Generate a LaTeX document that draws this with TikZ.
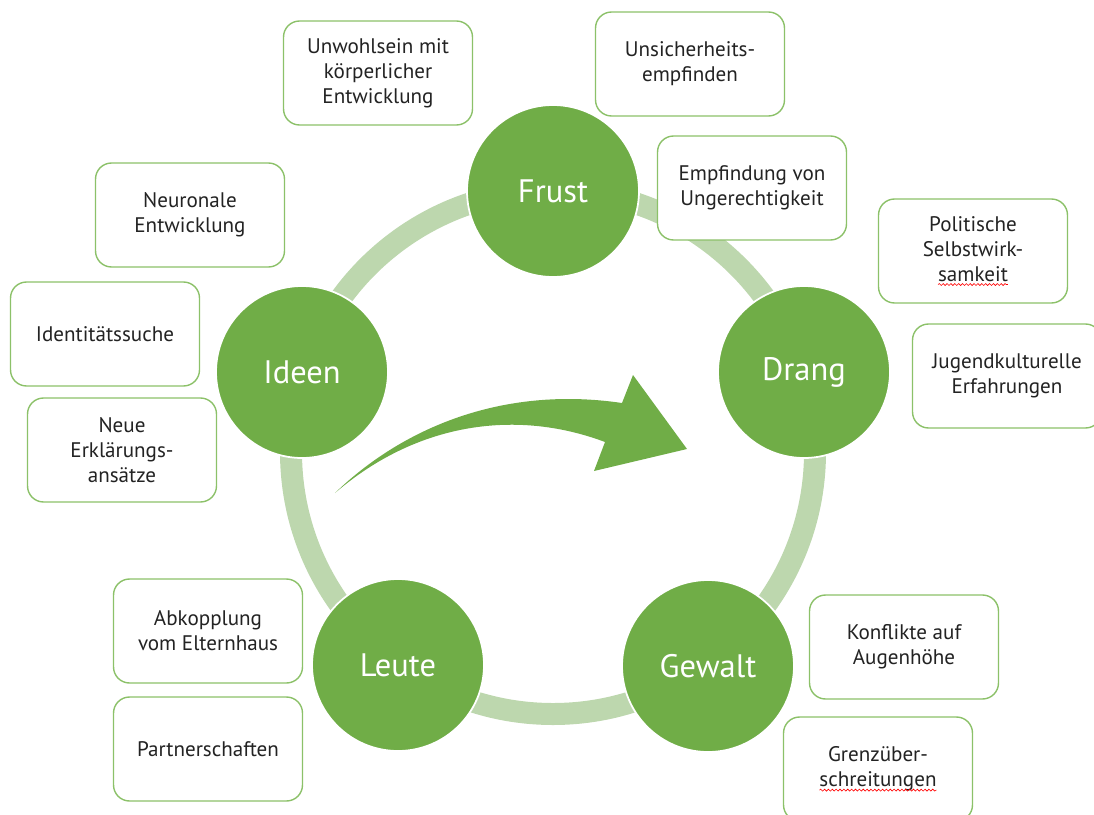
\documentclass[tikz,border=0pt]{standalone}
\usepackage{fontspec}
\setmainfont{PT Sans}
\usetikzlibrary{decorations.pathmorphing}

\definecolor{circgreen}{RGB}{112,173,71}
\definecolor{ringgreen}{RGB}{189,215,174}
\definecolor{boxgreen}{RGB}{140,193,105}
\definecolor{txtgray}{RGB}{35,35,35}

% red wavy underline of the spell checker
\newcommand{\spellerr}[1]{\tikz[baseline=(w.base),every node/.style={}]{%
  \node[inner sep=0pt, outer sep=0pt, draw=none, fill=none, minimum width=0pt,
    minimum height=0pt, sharp corners] (w) {#1};
  \draw[red, line width=0.35pt, sharp corners, decorate,
    decoration={snake, amplitude=0.55pt, segment length=2.2pt}]
    ([yshift=-2pt]w.base west) -- ([yshift=-2pt]w.base east);}}

\begin{document}
\begin{tikzpicture}[x=0.02cm,y=-0.02cm]

      \useasboundingbox (0,0) rectangle (1094,814);

      \draw[ringgreen, line width=0.44cm] (553,452) circle[radius=262];

      \begin{scope}[every node/.style={circle, fill=circgreen, draw=white, line width=1pt,
          minimum size=3.44cm, inner sep=0pt, text=white, font=\fontsize{18.5}{22}\selectfont}]
        \node (1) at (553,191) {Frust};
        \node (2) at (804,372) {Drang};
        \node (3) at (708,666) {Gewalt};
        \node (4) at (398,665) {Leute};
        \node (5) at (302,372) {Ideen};
      \end{scope}

      \begin{scope}[every node/.style={rectangle, rounded corners=0.32cm, draw=boxgreen,
          line width=0.8pt, fill=white, minimum width=3.78cm, minimum height=2.08cm,
          align=center, text=txtgray, font=\fontsize{12}{14.2}\selectfont}]
        \node (6)  at (378,73)   {Unwohlsein mit\\körperlicher\\Entwicklung};
        \node (7)  at (690,64)   {Unsicherheits-\\empfinden};
        \node (8)  at (752,188)  {Empfindung von\\Ungerechtigkeit};
        \node (9)  at (190,215)  {Neuronale\\Entwicklung};
        \node (10) at (973,251)  {Politische\\Selbstwirk-\\\spellerr{samkeit}};
        \node (11) at (105,334)  {Identitätssuche};
        \node (12) at (1007,376) {Jugendkulturelle\\Erfahrungen};
        \node (13) at (122,450)  {Neue\\Erklärungs-\\ansätze};
        \node (14) at (208,631)  {Abkopplung\\vom Elternhaus};
        \node (15) at (208,749)  {Partnerschaften};
        \node (16) at (904,647)  {Konflikte auf\\Augenhöhe};
        \node (17) at (878,769)  {Grenzüber-\\\spellerr{schreitungen}};
      \end{scope}

      \fill[circgreen] (335,493) .. controls (400,430) and (500,385) .. (622,403)
        -- (633,375) -- (687,449) -- (594,471) -- (605,442)
        .. controls (520,410) and (420,420) .. (335,493) -- cycle;

    \end{tikzpicture}
\end{document}
